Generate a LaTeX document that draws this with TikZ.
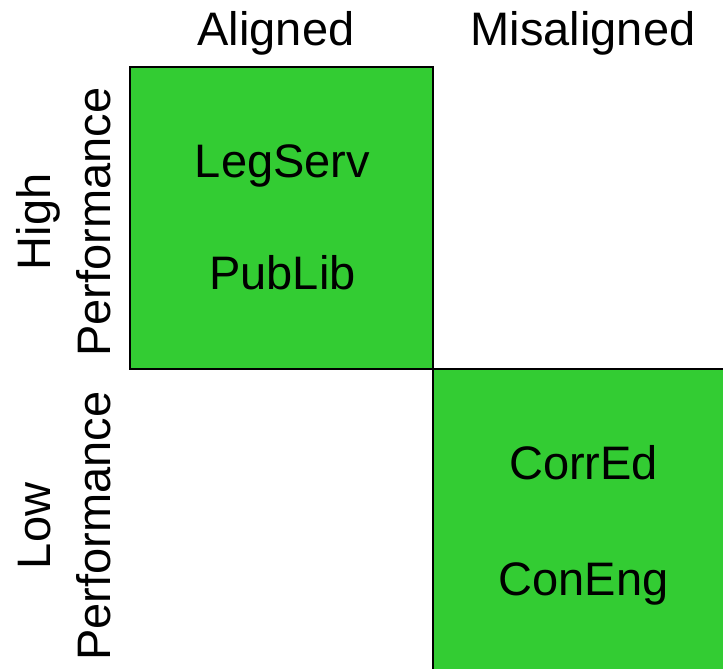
\documentclass[tikz,border=0pt]{standalone}
\usepackage{fontspec}
\setmainfont{Liberation Sans}
\definecolor{cellgreen}{HTML}{33CC33}
\begin{document}
\begin{tikzpicture}[x=1pt,y=-1pt,
  cell/.style={fill=cellgreen,draw=black,line width=2.8pt},
  lbl/.style={font=\fontsize{47}{56}\selectfont,inner sep=0pt,anchor=base},
  rlbl/.style={lbl,rotate=90}]
\useasboundingbox (0,0) rectangle (723,669);
\begin{scope}
\clip (0,0) rectangle (723,669);
\draw[cell] (130,67) rectangle (433,369);
\draw[cell] (433,369) rectangle (740,690);
\end{scope}
\node[lbl] (al) at (276,46) {Aligned};
\node[lbl] (mis) at (583,46) {Misaligned};
\node[lbl] (leg) at (282.5,177) {LegServ};
\node[lbl] (pub) at (282.5,289) {PubLib};
\node[lbl] (corr) at (583.5,479) {CorrEd};
\node[lbl] (con) at (583.5,595) {ConEng};
\node[rlbl] (high) at (50,222) {High};
\node[rlbl] (hperf) at (110,222) {Performance};
\node[rlbl] (low) at (50,526) {Low};
\node[rlbl] (lperf) at (110,526) {Performance};
\end{tikzpicture}
\end{document}
